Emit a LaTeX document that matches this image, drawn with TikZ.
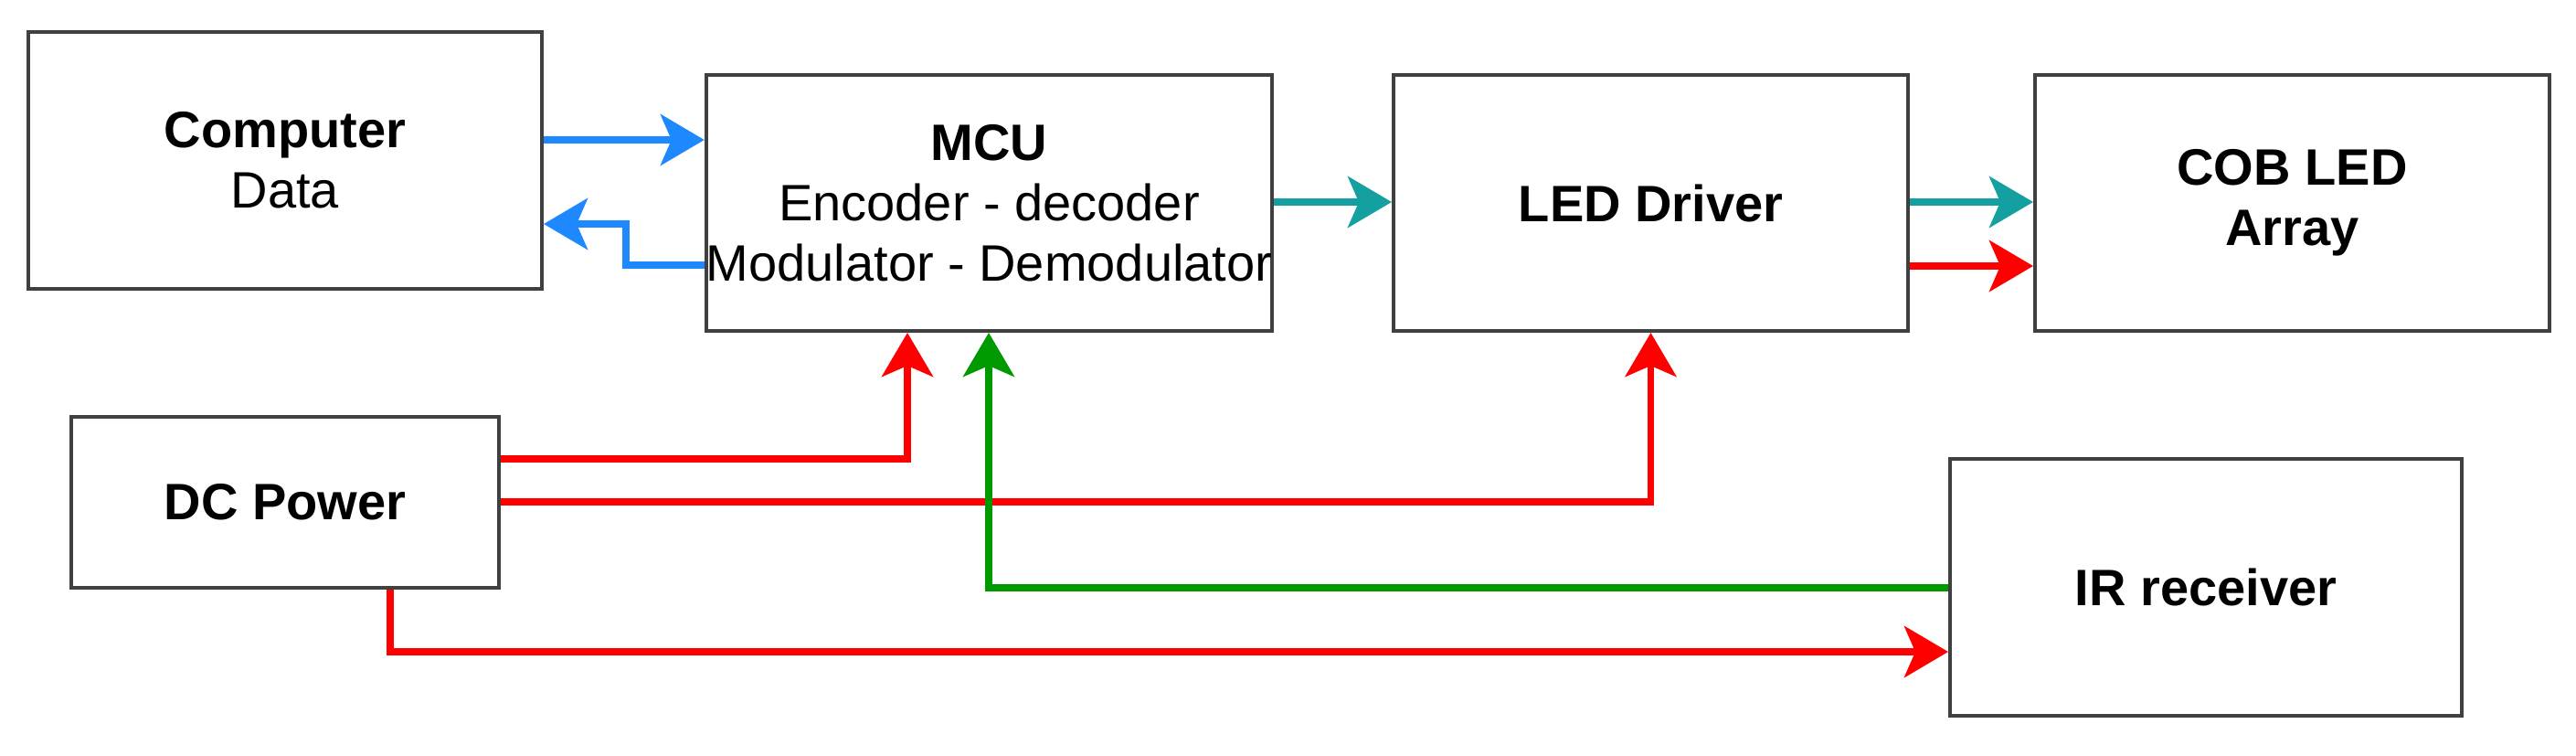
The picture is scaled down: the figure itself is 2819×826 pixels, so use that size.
\documentclass[tikz,border=0pt]{standalone}
\usepackage{fontspec}
\setmainfont{Liberation Sans}
\usetikzlibrary{arrows.meta,calc}
\definecolor{cblue}{RGB}{30,136,255}
\definecolor{cteal}{RGB}{20,160,160}
\definecolor{cgreen}{RGB}{0,153,0}
\definecolor{cred}{RGB}{255,0,0}
\begin{document}
\begin{tikzpicture}[x=0.25pt,y=-0.25pt,
  box/.style={draw=black!75,line width=1pt,fill=white,align=center,inner sep=0pt,
    font=\fontsize{14}{16.5}\selectfont},
  conn/.style={line width=1.8pt,-{Stealth[length=12pt,width=14pt,inset=3pt]}}]
\useasboundingbox (0,0) rectangle (2819,826);
\node[box,minimum width=140.5pt,minimum height=70.25pt] (comp) at (312,175.5) {\textbf{Computer}\\Data};
\node[box,minimum width=152.25pt,minimum height=70pt] (mcu) at (1082.5,222) {\textbf{MCU}\\Encoder - decoder\\Modulator - Demodulator};
\node[box,minimum width=140.75pt,minimum height=70pt] (led) at (1806.5,222) {\textbf{LED Driver}};
\node[box,minimum width=140.75pt,minimum height=70pt] (cob) at (2508.5,222) {\textbf{COB LED}\\\textbf{Array}};
\node[box,minimum width=117pt,minimum height=46.75pt] (dc) at (312,549.5) {\textbf{DC Power}};
\node[box,minimum width=140pt,minimum height=70.25pt] (ir) at (2414,642.5) {\textbf{IR receiver}};
\draw[conn,cblue] (comp.east|-0,153) -- (mcu.west|-0,153);
\draw[conn,cblue] (mcu.west|-0,290) -- (685,290) -- (685,245) -- (comp.east|-0,245);
\draw[conn,cteal] (mcu.east|-0,221) -- (led.west|-0,221);
\draw[conn,cteal] (led.east|-0,221) -- (cob.west|-0,221);
\draw[conn,cred] (led.east|-0,291) -- (cob.west|-0,291);
\draw[conn,cred] (dc.east|-0,502) -| (mcu.south-|993,0);
\draw[conn,cred] (dc.east|-0,549) -| (led.south);
\draw[conn,cgreen] (ir.west|-0,643) -| (mcu.south-|1082,0);
\draw[conn,cred] (dc.south-|427,0) |- (ir.west|-0,713);
\end{tikzpicture}
\end{document}
